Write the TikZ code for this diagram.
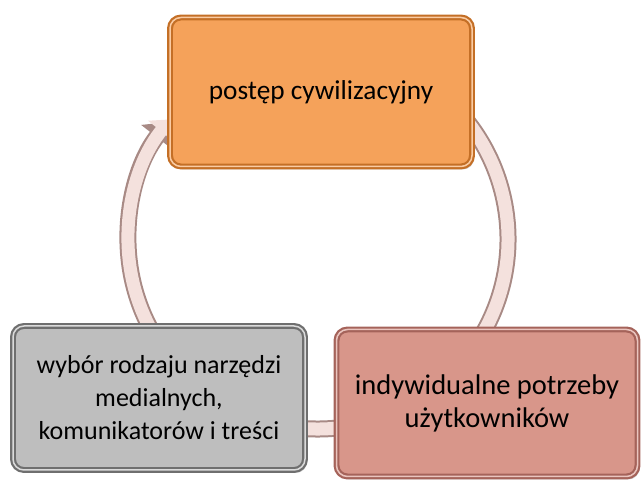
\documentclass[tikz,border=0pt]{standalone}
\usepackage{fontspec}
\setmainfont{Carlito}
\usetikzlibrary{arrows.meta,shadows}
\definecolor{ringfill}{HTML}{F4E1DD}
\definecolor{ringedge}{HTML}{A88A85}
\definecolor{orangefill}{HTML}{F5A25A}
\definecolor{orangeedge}{HTML}{C46F26}
\definecolor{greyfill}{HTML}{BEBEBE}
\definecolor{greyedge}{HTML}{6F6F6F}
\definecolor{rosefill}{HTML}{D8968A}
\definecolor{roseedge}{HTML}{A5635A}

\begin{document}
\begin{tikzpicture}[x=1pt, y=1pt, box/.style={draw=#1edge, fill=#1fill, double=#1fill!55!white, double distance=1.5pt, rounded corners=11pt, line width=2.2pt, align=center, inner sep=0pt, drop shadow={shadow xshift=2pt, shadow yshift=-3pt, opacity=0.35}}]
\useasboundingbox (0,0) rectangle (643,486);
\coordinate (hub) at (318,247);
\draw[line width=17pt, ringedge, -{Triangle[length=19pt,width=38pt]}] ([shift={(100:190)}]hub) arc[start angle=100, end angle=-218, radius=190];
\draw[line width=13pt, ringfill, -{Triangle[length=15pt,width=32pt]}] ([shift={(100:190)}]hub) arc[start angle=100, end angle=-219, radius=190];
\node[box=orange, minimum width=302pt, minimum height=149pt, font=\fontsize{27.3}{33}\selectfont] (civ) at (321,394) {postęp cywilizacyjny};
\node[box=rose, minimum width=301pt, minimum height=147pt, font=\fontsize{28.5}{33}\selectfont] (needs) at (487,83) {indywidualne potrzeby\\użytkowników};
\node[box=grey, minimum width=292pt, minimum height=144pt, font=\fontsize{26}{33}\selectfont] (choice) at (159,88) {wybór rodzaju narzędzi\\medialnych,\\komunikatorów i treści};
\end{tikzpicture}
\end{document}
